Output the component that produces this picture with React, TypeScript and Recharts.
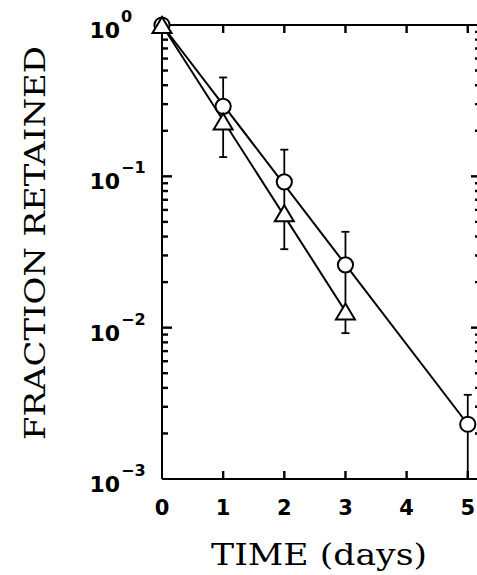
import React from 'react';
import { ComposedChart, Line, Scatter, XAxis, YAxis, ErrorBar, Label } from 'recharts';

// ---- data ----
const circleDays = [0, 1, 2, 3, 5];
const circleValues = [1, 0.29, 0.092, 0.026, 0.0023];
const circleHigh = [1, 0.45, 0.15, 0.043, 0.0036];
const circleLow = [1, 0.23, 0.057, 0.0128, 0.001];

const triangleDays = [0, 1, 2, 3];
const triangleValues = [1, 0.23, 0.057, 0.0128];
const triangleHigh = [1, 0.23, 0.057, 0.0128];
const triangleLow = [1, 0.134, 0.033, 0.0092];

const circleFitDays = [0, 5];
const circleFitValues = [1, 0.0023];
const triangleFitDays = [0, 3];
const triangleFitValues = [1, 0.0128];

const xTicks = [0, 1, 2, 3, 4, 5];
const xDomain = [0, 5.2];
const yDomain = [0.001, 1];
const yMajorTicks = [1, 0.1, 0.01, 0.001];
const yExponents = ['0', '\u22121', '\u22122', '\u22123'];
const yMinorTicks = [
  0.002, 0.003, 0.004, 0.005, 0.006, 0.007, 0.008, 0.009,
  0.02, 0.03, 0.04, 0.05, 0.06, 0.07, 0.08, 0.09,
  0.2, 0.3, 0.4, 0.5, 0.6, 0.7, 0.8, 0.9,
];
const xTitle = 'TIME (days)';
const yTitle = 'FRACTION RETAINED';

// ---- derived tables ----
const circleData = circleDays.map((t, i) => ({
  t,
  v: circleValues[i],
  err: [circleValues[i] - circleLow[i], circleHigh[i] - circleValues[i]],
}));
const triangleData = triangleDays.map((t, i) => ({
  t,
  v: triangleValues[i],
  err: [triangleValues[i] - triangleLow[i], triangleHigh[i] - triangleValues[i]],
}));
const circleFit = circleFitDays.map((t, i) => ({ t, v: circleFitValues[i] }));
const triangleFit = triangleFitDays.map((t, i) => ({ t, v: triangleFitValues[i] }));
const allYTicks = [...yMajorTicks, ...yMinorTicks].sort((a, b) => a - b);

const innerMajors = yMajorTicks.filter((v) => v !== yDomain[0] && v !== yDomain[1]);
// frame tick marks, drawn through the chart scales; side = which frame edge
const frameMarks = [
  ...yMinorTicks.map((v) => ({ t: xDomain[0], v, side: 'L', major: false })),
  ...innerMajors.map((v) => ({ t: xDomain[0], v, side: 'L', major: true })),
  ...yMinorTicks.map((v) => ({ t: xDomain[1], v, side: 'R', major: false })),
  ...innerMajors.map((v) => ({ t: xDomain[1], v, side: 'R', major: true })),
  ...xTicks.filter((t) => t > 0).map((t) => ({ t, v: yDomain[1], side: 'T', major: true })),
  ...xTicks.filter((t) => t > 0).map((t) => ({ t, v: yDomain[0], side: 'B', major: true })),
];

const INK = '#000';
const labelFont = '"DejaVu Sans", sans-serif';
const titleFont = '"DejaVu Serif", serif';

const num = (v: any) => Number(v);
const majorIndex = (v: number) =>
  yMajorTicks.findIndex((m) => Math.abs(Math.log10(m) - Math.log10(v)) < 1e-6);

const LeftTick = (props: any) => {
  const x = num(props.x);
  const y = num(props.y);
  const idx = majorIndex(num(props.payload.value));
  if (idx < 0) return <g />;
  const exp = yExponents[idx];
  return (
    <g>
      <text x={x - 42} y={y + 13} textAnchor="end" fontFamily={labelFont} fontWeight="bold" fontSize={22} fill={INK}>
        10
      </text>
      <text x={x - 41} y={y - 3} textAnchor="start" fontFamily={labelFont} fontWeight="bold" fontSize={16} fill={INK}>
        {exp}
      </text>
    </g>
  );
};

const BottomTick = (props: any) => {
  const x = num(props.x);
  const y = num(props.y);
  return (
    <text x={x} y={y + 36} textAnchor="middle" fontFamily={labelFont} fontWeight="bold" fontSize={21} fill={INK}>
      {props.payload.value}
    </text>
  );
};

const NoTick = () => <g />;

const FrameMark = (p: any) => {
  const pl = p.payload || {};
  const cx = num(p.cx);
  const cy = num(p.cy);
  let d = '';
  if (pl.side === 'L') d = `M${cx - 1},${cy}H${cx + (pl.major ? 10 : 6)}`;
  else if (pl.side === 'R') d = `M${cx + 1},${cy}H${cx - (pl.major ? 9 : 5)}`;
  else if (pl.side === 'T') d = `M${cx},${cy - 1}V${cy + 8}`;
  else d = `M${cx},${cy + 1}V${cy - 8}`;
  return <path d={d} stroke={INK} strokeWidth={2.4} fill="none" />;
};

const XTitle = (props: any) => {
  const vb = props.viewBox || { x: 162, y: 479, width: 318, height: 96 };
  return (
    <text x={vb.x + vb.width / 2 - 2} y={vb.y + 86} textAnchor="middle" fontFamily={titleFont} fontSize={30}
      textLength={216} lengthAdjust="spacingAndGlyphs" fill={INK}>
      {xTitle}
    </text>
  );
};

const YTitle = (props: any) => {
  const vb = props.viewBox || { x: 0, y: 25, width: 162, height: 454 };
  const cx = vb.x + 45;
  const cy = vb.y + 218;
  return (
    <text x={cx} y={cy} transform={`rotate(-90, ${cx}, ${cy})`} textAnchor="middle" fontFamily={titleFont}
      fontSize={28} textLength={394} lengthAdjust="spacingAndGlyphs" fill={INK}>
      {yTitle}
    </text>
  );
};

const CircleDot = (p: any) => (
  <circle key={`c-${p.index}`} cx={p.cx} cy={p.cy} r={7.6} fill="#fff" stroke={INK} strokeWidth={2} />
);

const TriangleDot = (p: any) => {
  const { cx, cy } = p;
  const d = `M ${cx} ${cy - 8} L ${cx + 9.5} ${cy + 8} L ${cx - 9.5} ${cy + 8} Z`;
  return <path key={`t-${p.index}`} d={d} fill="#fff" stroke={INK} strokeWidth={2} />;
};

const axisStroke = { stroke: INK, strokeWidth: 2 };

export default function App() {
  return (
    <div style={{ position: 'fixed', left: 0, top: 0, width: 477, height: 575, overflow: 'hidden', background: '#fff' }}>
      <ComposedChart width={500} height={575} margin={{ top: 0, right: 0, bottom: 0, left: 0 }}>
        <XAxis xAxisId="b" type="number" dataKey="t" domain={xDomain} ticks={xTicks} interval={0} height={96}
          tickSize={0} tickMargin={0} tickLine={false} tick={BottomTick} axisLine={axisStroke}>
          <Label content={XTitle} />
        </XAxis>
        <XAxis xAxisId="t" orientation="top" type="number" dataKey="t" domain={xDomain} ticks={xTicks} interval={0}
          height={25} tickSize={0} tickMargin={0} tickLine={false} tick={NoTick} axisLine={axisStroke} />
        <YAxis yAxisId="l" type="number" dataKey="v" scale="log" domain={yDomain} ticks={allYTicks} interval={0}
          width={162} tickSize={0} tickMargin={0} tickLine={false} tick={LeftTick} axisLine={axisStroke}>
          <Label content={YTitle} />
        </YAxis>
        <YAxis yAxisId="r" orientation="right" type="number" dataKey="v" scale="log" domain={yDomain} ticks={allYTicks}
          interval={0} width={20} tickSize={0} tickMargin={0} tickLine={false} tick={NoTick} axisLine={axisStroke} />
        <Scatter xAxisId="b" yAxisId="l" data={frameMarks} dataKey="v" shape={FrameMark} isAnimationActive={false} legendType="none" />
        <Line xAxisId="b" yAxisId="l" data={circleFit} dataKey="v" stroke={INK} strokeWidth={2} dot={false}
          activeDot={false} isAnimationActive={false} />
        <Line xAxisId="b" yAxisId="l" data={triangleFit} dataKey="v" stroke={INK} strokeWidth={2} dot={false}
          activeDot={false} isAnimationActive={false} />
        <Line xAxisId="b" yAxisId="l" data={circleData} dataKey="v" stroke="none" dot={CircleDot} activeDot={false}
          isAnimationActive={false}>
          <ErrorBar dataKey="err" direction="y" width={4} stroke={INK} strokeWidth={1.8} isAnimationActive={false} />
        </Line>
        <Line xAxisId="b" yAxisId="l" data={triangleData} dataKey="v" stroke="none" dot={TriangleDot} activeDot={false}
          isAnimationActive={false}>
          <ErrorBar dataKey="err" direction="y" width={4} stroke={INK} strokeWidth={1.8} isAnimationActive={false} />
        </Line>
      </ComposedChart>
    </div>
  );
}
